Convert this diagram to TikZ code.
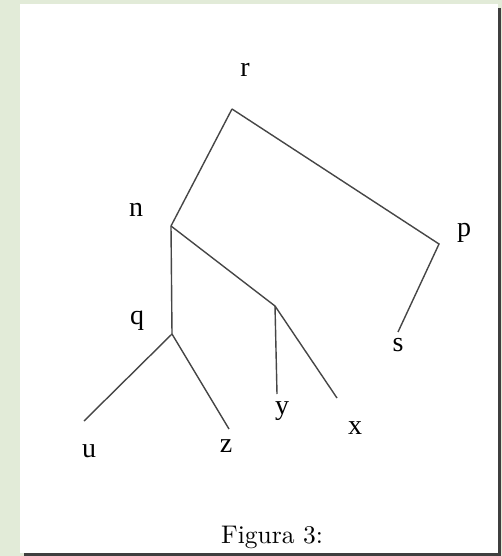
\documentclass[tikz,border=0pt]{standalone}
\usepackage{fontspec}
\newfontfamily\treefont{Liberation Serif}
\newfontfamily\capfont{lmroman10-regular}[Extension=.otf]
\definecolor{sage}{RGB}{226,235,216}
\definecolor{edgegray}{RGB}{70,70,70}
\begin{document}
\begin{tikzpicture}[x=1pt, y=-1pt,
  lbl/.style={inner sep=0pt, font=\treefont\fontsize{28}{30}\selectfont},
  edge/.style={edgegray, line width=1.4pt}]
\useasboundingbox (0,0) rectangle (502,556);
\fill[sage] (0,0) rectangle (502,556);
\fill[edgegray!90!black] (24,8) rectangle (501,556);
\fill[white] (20,4) rectangle (498,553);
% junctions and ends
\coordinate (r) at (232,109);
\coordinate (n) at (171,226);
\coordinate (p) at (439,244);
\coordinate (s) at (398,332);
\coordinate (q) at (172,334);
\coordinate (m) at (275,306);
\coordinate (y) at (277,394);
\coordinate (x) at (337,398);
\coordinate (u) at (84,421);
\coordinate (z) at (229,429);
\draw[edge] (r)--(n);
\draw[edge] (r)--(p)--(s);
\draw[edge] (n)--(q);
\draw[edge] (n)--(m)--(y);
\draw[edge] (m)--(x);
\draw[edge] (q)--(u);
\draw[edge] (q)--(z);
% labels
\node[lbl] (rl) at (245,70) {r};
\node[lbl] (nl) at (136,210) {n};
\node[lbl] (pl) at (464,233) {p};
\node[lbl] (sl) at (398,345) {s};
\node[lbl] (ql) at (137,321) {q};
\node[lbl] (yl) at (282,411) {y};
\node[lbl] (xl) at (355,428) {x};
\node[lbl] (ul) at (89,451) {u};
\node[lbl] (zl) at (226,446) {z};
\node[anchor=base, inner sep=0pt, font=\capfont\fontsize{25.5}{28}\selectfont] (cap) at (272,543) {Figura 3:};
\end{tikzpicture}
\end{document}
